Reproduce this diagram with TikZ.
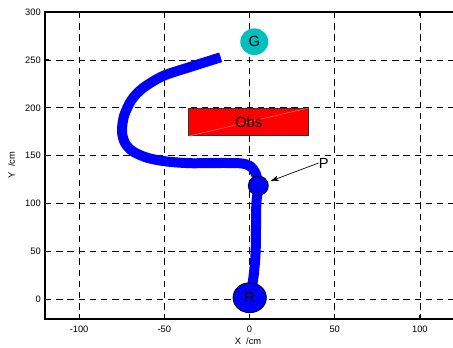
\documentclass[tikz,border=0pt]{standalone}
\usepackage{fontspec}
\setmainfont{Liberation Sans}
\usetikzlibrary{arrows.meta,shapes.geometric}
\definecolor{gcyan}{RGB}{0,191,191}
\definecolor{pathblue}{RGB}{0,0,255}
\definecolor{obsred}{RGB}{255,0,0}
\begin{document}
\begin{tikzpicture}[x=0.75pt,y=-0.75pt,
  gridline/.style={black, line width=0.6pt, dash pattern=on 4.8pt off 3.6pt},
  axisline/.style={black, line width=0.9pt},
  ticklbl/.style={font=\fontsize{7}{8}\selectfont, inner sep=0pt},
  biglbl/.style={font=\fontsize{11}{12}\selectfont, inner sep=0pt},
  trajectory/.style={pathblue, line width=7.5pt, line cap=butt, line join=round},
  marker/.style={ellipse, draw=black, line width=0.6pt, fill=pathblue, inner sep=0pt}]
\useasboundingbox (0,0) rectangle (453,347);
\begin{scope}
\clip (0,0) rectangle (453,347);
% grid
\foreach \gx in {79.1,164.3,249.5,334.7,419.9}
  \draw[gridline] (\gx,12) -- (\gx,319);
\foreach \gy in {299.3,251.4,203.5,155.7,107.8,59.9}
  \draw[gridline] (45,\gy) -- (460,\gy);
% axes box
\draw[axisline] (460,12) -- (45,12) -- (45,319) -- (460,319);
\foreach \gx in {79.1,164.3,249.5,334.7,419.9} {
  \draw[axisline] (\gx,319) -- (\gx,315);
  \draw[axisline] (\gx,12) -- (\gx,16);
}
\foreach \gy in {299.3,251.4,203.5,155.7,107.8,59.9,12}
  \draw[axisline] (45,\gy) -- (49,\gy);
% obstacle
\node[draw=black!80, line width=0.6pt, fill=obsred, minimum width=90pt, minimum height=20.7pt, inner sep=0pt, anchor=north west] (obs) at (188.3,107.8) {};
\draw[red!45!white, line width=0.3pt] (obs.south west) -- (obs.north east);
\node[biglbl] at (obs.center) {Obs};
% goal
\node[ellipse, fill=gcyan, minimum width=21pt, minimum height=20pt, inner sep=0pt] (G) at (254.3,41.7) {};
\node[biglbl] at (G.center) {G};
% trajectory
\draw[trajectory] plot[smooth, tension=0.5] coordinates {
  (220.7,57.3) (190,67) (163,76) (143,88) (131.5,100) (124,116) (122,131.5)
  (125,143) (133,151.5) (148,158) (167,161.5) (190,163.2) (215,163) (240,163.3)
  (250,166) (255.5,173) (258.3,185.7) (256.3,205) (255.7,250)
  (253.5,277) (250,297)};
% markers
\node[marker, minimum width=15pt, minimum height=14.5pt] (P) at (258.3,185.7) {};
\node[marker, minimum width=25pt, minimum height=22.5pt] (R) at (249.7,297.7) {};
\node[biglbl] at (R.center) {R};
% P label and arrow
\node[biglbl] (Plabel) at (323.7,163) {P};
\draw[black, line width=0.5pt, -{Stealth[length=6pt, width=4pt, inset=1.5pt]}, shorten >=9.8pt] (Plabel.west) -- (P.center);
\end{scope}
% tick labels
\foreach \gy/\lab in {299.3/0,251.4/50,203.5/100,155.7/150,107.8/200,59.9/250,12/300}
  \node[ticklbl, anchor=east] at (41,\gy) {\lab};
\foreach \gx/\lab in {79.1/-100,164.3/-50,249.5/0,334.7/50,419.9/100}
  \node[ticklbl] at (\gx,329) {\lab};
\node[ticklbl] (xlab) at (248,341.5) {X~~/cm};
\node[ticklbl, rotate=90] (ylab) at (11.5,165) {Y~~/cm};
\end{tikzpicture}
\end{document}
